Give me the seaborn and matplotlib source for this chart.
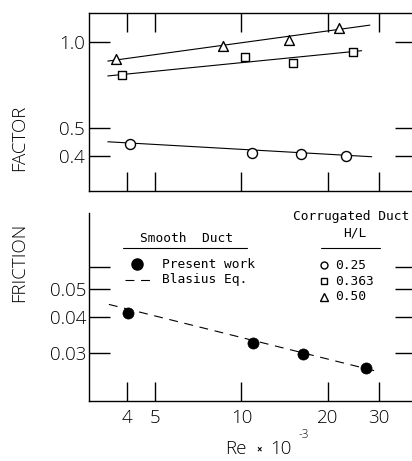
import matplotlib
matplotlib.use("Agg")
import matplotlib.pyplot as plt
from matplotlib.ticker import FixedLocator, FixedFormatter, NullLocator
import seaborn as sns
import pandas as pd

# ---------------- data ----------------
# Corrugated duct, H/L = 0.25 (open circles)
re_025 = [4.09, 10.85, 16.07, 23.1]
f_025 = [0.441, 0.411, 0.407, 0.401]
fit_re_025 = [3.43, 28.4]
fit_f_025 = [0.449, 0.398]

# H/L = 0.363 (open squares)
re_0363 = [3.85, 10.3, 15.1, 24.5]
f_0363 = [0.767, 0.886, 0.845, 0.923]
fit_re_0363 = [3.43, 26.2]
fit_f_0363 = [0.763, 0.935]

# H/L = 0.50 (open triangles)
re_050 = [3.65, 8.64, 14.7, 21.9]
f_050 = [0.872, 0.971, 1.019, 1.125]
fit_re_050 = [3.43, 28.0]
fit_f_050 = [0.860, 1.149]

# Smooth duct, present work (filled circles) and Blasius line
re_smooth = [4.03, 10.94, 16.34, 27.1]
f_smooth = [0.0412, 0.0326, 0.0298, 0.0265]
blasius_re = [3.46, 30.0]
blasius_f = [0.0443, 0.0258]

x_ticks = [4, 5, 10, 20, 30]
x_ticklabels = ["4", "5", "10", "20", "30"]
top_yticks = [0.4, 0.5, 1.0]
top_yticklabels = ["0.4", "0.5", "1.0"]
bot_yticks = [0.03, 0.04, 0.05, 0.06]
bot_yticklabels = ["0.03", "0.04", "0.05", ""]
hl_labels = ["0.25", "0.363", "0.50"]

# ---------------- figure ----------------
sns.set_style("ticks")
plt.rcParams["font.family"] = ["Open Sans", "DejaVu Sans"]
plt.rcParams["font.weight"] = "light"
plt.rcParams["text.color"] = "black"
plt.rcParams["xtick.color"] = "black"
plt.rcParams["ytick.color"] = "black"
plt.rcParams["axes.labelcolor"] = "black"

W, H = 412, 461
fig = plt.figure(figsize=(W / 100, H / 100), dpi=100)

def fx(px):
    return px / W

def fy(py):
    return 1 - py / H

ax1 = fig.add_axes([fx(89), fy(191), fx(416) - fx(89), fy(12.7) - fy(191)])
ax2 = fig.add_axes([fx(89), fy(401), fx(416) - fx(89), fy(212.7) - fy(401)])

LW = 0.8
for ax in (ax1, ax2):
    ax.set_xscale("log")
    ax.set_yscale("log")
    ax.set_xlim(2.95, 40.5)
    ax.set_facecolor("white")
    for s in ax.spines.values():
        s.set_linewidth(1.0)
        s.set_color("black")

ax1.set_ylim(0.302, 1.27)
ax2.set_ylim(0.0204, 0.0925)

# ----- top panel: corrugated duct -----
series = [
    (fit_re_025, fit_f_025, re_025, f_025, "o", 52),
    (fit_re_0363, fit_f_0363, re_0363, f_0363, "s", 36),
    (fit_re_050, fit_f_050, re_050, f_050, "^", 50),
]
for fre, ff, rr, ffv, mk, sz in series:
    sns.lineplot(x=fre, y=ff, ax=ax1, color="black", linewidth=LW, zorder=2)
    df = pd.DataFrame({"Re": rr, "f": ffv})
    sns.scatterplot(data=df, x="Re", y="f", ax=ax1, marker=mk, s=sz,
                    facecolor="white", edgecolor="black", linewidth=1.0,
                    zorder=3)

# ----- bottom panel: smooth duct -----
sns.lineplot(x=blasius_re, y=blasius_f, ax=ax2, color="black",
             linewidth=LW, dashes=False, zorder=2)
ax2.lines[-1].set_dashes((8, 6))
df_s = pd.DataFrame({"Re": re_smooth, "f": f_smooth})
sns.scatterplot(data=df_s, x="Re", y="f", ax=ax2, marker="o", s=64,
                color="black", edgecolor="black", linewidth=0.5, zorder=3)

# ----- ticks -----
TICKFS = 13.5
for ax in (ax1, ax2):
    ax.xaxis.set_major_locator(FixedLocator(x_ticks))
    ax.xaxis.set_minor_locator(NullLocator())
    ax.yaxis.set_minor_locator(NullLocator())
    ax.set_xlabel("")
    ax.set_ylabel("")

ax1.yaxis.set_major_locator(FixedLocator(top_yticks))
ax1.yaxis.set_major_formatter(FixedFormatter(top_yticklabels))
ax2.yaxis.set_major_locator(FixedLocator(bot_yticks))
ax2.yaxis.set_major_formatter(FixedFormatter(bot_yticklabels))
ax2.xaxis.set_major_formatter(FixedFormatter(x_ticklabels))
ax1.xaxis.set_major_formatter(FixedFormatter([""] * len(x_ticks)))

ax1.tick_params(axis="x", which="major", top=True, bottom=True,
                direction="in", length=13.5, width=1.0, labelbottom=False)
ax1.tick_params(axis="y", which="major", left=True, right=True,
                direction="in", length=15, width=1.0, pad=3,
                labelsize=TICKFS)
ax2.tick_params(axis="x", which="major", top=False, bottom=True,
                direction="in", length=13.5, width=1.0, pad=6,
                labelsize=TICKFS)
ax2.tick_params(axis="y", which="major", left=True, right=True,
                direction="in", length=15, width=1.0, pad=2,
                labelsize=TICKFS)

ax1.spines["right"].set_visible(False)
ax2.spines["right"].set_visible(False)
ax2.spines["top"].set_visible(False)

# ----- axis titles -----
fig.text(fx(19), fy(138), "FACTOR", rotation=90, ha="center", va="center",
         fontsize=13.5)
fig.text(fx(19), fy(262), "FRICTION", rotation=90, ha="center", va="center",
         fontsize=13.5)
fig.text(fx(247), fy(449), "Re", ha="right", va="center", fontsize=13.5)
fig.text(fx(259), fy(450), "×", ha="center", va="center", fontsize=7,
         fontweight="bold")
fig.text(fx(270), fy(449), "10", ha="left", va="center", fontsize=13.5)
fig.text(fx(298), fy(434), "-3", ha="left", va="center", fontsize=8.5)

# ----- legend (hand-lettered style) -----
LFS = 9.3
mono = ["DejaVu Sans Mono"]
T = ax2.transAxes
ax2.text(0.297, 0.862, "Smooth  Duct", transform=T, ha="center",
         va="center", fontsize=LFS, family=mono)
ax2.plot([0.105, 0.482], [0.811, 0.811], transform=T, color="black",
         lw=0.8, clip_on=False)
ax2.plot([0.148], [0.726], transform=T, marker="o", ms=8, color="black",
         clip_on=False)
ax2.text(0.222, 0.726, "Present work", transform=T, ha="left", va="center",
         fontsize=LFS, family=mono)
ax2.plot([0.110, 0.196], [0.643, 0.643], transform=T, color="black",
         lw=LW, dashes=(8, 6), clip_on=False)
ax2.text(0.222, 0.643, "Blasius Eq.", transform=T, ha="left", va="center",
         fontsize=LFS, family=mono)

ax2.text(0.803, 0.979, "Corrugated Duct", transform=T, ha="center",
         va="center", fontsize=LFS, family=mono)
ax2.text(0.813, 0.890, "H/L", transform=T, ha="center", va="center",
         fontsize=LFS, family=mono)
ax2.plot([0.709, 0.890], [0.811, 0.811], transform=T, color="black",
         lw=0.8, clip_on=False)
leg_y = [0.722, 0.637, 0.554]
leg_m = ["o", "s", "^"]
leg_ms = [5, 4.2, 5.5]
for yy, mk, ms, lab in zip(leg_y, leg_m, leg_ms, hl_labels):
    ax2.plot([0.720], [yy], transform=T, marker=mk, ms=ms, mfc="white",
             mec="black", mew=1.0, clip_on=False)
    ax2.text(0.754, yy, lab, transform=T, ha="left", va="center",
             fontsize=LFS, family=mono)

fig.savefig("out.png", dpi=100)
